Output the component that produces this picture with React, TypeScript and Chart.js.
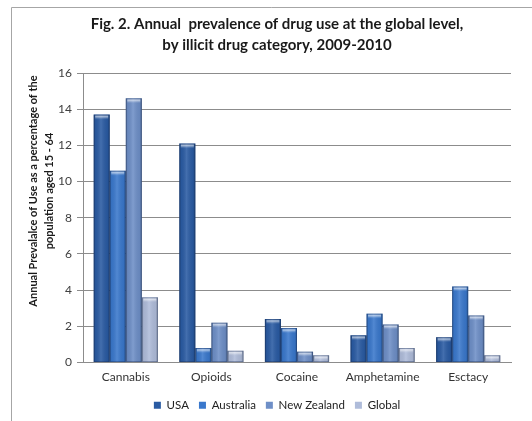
import React, { useEffect, useRef } from "react";
import { Chart, registerables } from "chart.js";

Chart.register(...registerables);

const categories = ["Cannabis", "Opioids", "Cocaine", "Amphetamine", "Esctacy"];
const seriesNames = ["USA", "Australia", "New Zealand", "Global"];
const usa = [13.7, 12.1, 2.4, 1.5, 1.4];
const australia = [10.6, 0.8, 1.9, 2.7, 4.2];
const newZealand = [14.6, 2.2, 0.6, 2.1, 2.6];
const globalLevel = [3.6, 0.65, 0.4, 0.8, 0.4];
const yTicks = [0, 2, 4, 6, 8, 10, 12, 14, 16];

const titleLines = [
  "Fig. 2. Annual  prevalence of drug use at the global level,",
  "by illicit drug category, 2009-2010",
];
const yTitleLines = [
  "Annual Prevalalce of Use as a percentage of the",
  "population aged 15 - 64",
];

const colors = ["#2a5ba3", "#3a78cc", "#6e8fc7", "#afbcda"];
const FONT = "Lato, 'Liberation Sans', sans-serif";

// shades each bar like a rounded cylinder with a lit top cap
const barShading = {
  id: "barShading",
  afterDatasetsDraw(chart: any) {
    const ctx = chart.ctx;
    chart.data.datasets.forEach((_: any, di: number) => {
      const meta = chart.getDatasetMeta(di);
      meta.data.forEach((bar: any) => {
        const { x, y, base, width } = bar.getProps(["x", "y", "base", "width"], true);
        const left = x - width / 2;
        const h = base - y;
        if (h <= 0) return;
        ctx.save();
        const g = ctx.createLinearGradient(left, 0, left + width, 0);
        g.addColorStop(0, "rgba(0,0,0,0.22)");
        g.addColorStop(0.12, "rgba(0,0,0,0.05)");
        g.addColorStop(0.45, "rgba(255,255,255,0.12)");
        g.addColorStop(0.85, "rgba(0,0,0,0.06)");
        g.addColorStop(1, "rgba(0,0,0,0.25)");
        ctx.fillStyle = g;
        ctx.fillRect(left, y, width, h);
        const capH = Math.min(4, h);
        const cg = ctx.createLinearGradient(0, y, 0, y + capH);
        cg.addColorStop(0, "rgba(255,255,255,0.25)");
        cg.addColorStop(0.5, "rgba(255,255,255,0.55)");
        cg.addColorStop(1, "rgba(255,255,255,0.1)");
        ctx.fillStyle = cg;
        ctx.fillRect(left + 1.5, y + 0.5, width - 3, capH);
        ctx.strokeStyle = "rgba(20,40,80,0.35)";
        ctx.lineWidth = 1;
        ctx.strokeRect(left + 0.5, y + 0.5, width - 1, h - 1);
        ctx.restore();
      });
    });
  },
};

// outer frame and the rotated two-line axis caption
const decorations = {
  id: "decorations",
  beforeDraw(chart: any) {
    const ctx = chart.ctx;
    ctx.save();
    ctx.fillStyle = "#ffffff";
    ctx.fillRect(0, 0, chart.width, chart.height);
    ctx.strokeStyle = "#a6a6a6";
    ctx.lineWidth = 1;
    ctx.beginPath();
    ctx.moveTo(11.5, chart.height);
    ctx.lineTo(11.5, 7.5);
    ctx.lineTo(chart.width, 7.5);
    ctx.stroke();
    ctx.restore();
  },
  afterDraw(chart: any) {
    const ctx = chart.ctx;
    ctx.save();
    ctx.translate(33, 191);
    ctx.rotate(-Math.PI / 2);
    ctx.fillStyle = "#1a1a1a";
    ctx.font = `bold 11px ${FONT}`;
    ctx.textAlign = "center";
    ctx.textBaseline = "middle";
    ctx.fillText(yTitleLines[0], 0, 0);
    ctx.fillText(yTitleLines[1], 0, 16);
    ctx.restore();
  },
};

export default function App() {
  const ref = useRef<HTMLCanvasElement>(null);

  useEffect(() => {
    if (!ref.current) return;
    const values = [usa, australia, newZealand, globalLevel];
    const chart = new Chart(ref.current, {
      type: "bar",
      data: {
        labels: categories,
        datasets: seriesNames.map((name, i) => ({
          label: name,
          data: values[i],
          backgroundColor: colors[i],
          borderWidth: 0,
          categoryPercentage: 0.75,
          barPercentage: 1.0,
        })),
      },
      options: {
        animation: false,
        responsive: false,
        layout: { padding: { left: 43, right: 21, top: 0, bottom: 0 } },
        plugins: {
          title: {
            display: true,
            text: titleLines,
            color: "#1a1a1a",
            font: { family: FONT, size: 15, weight: "bold", lineHeight: 1.4 },
            padding: { top: 14, bottom: 17 },
          },
          legend: {
            position: "bottom",
            labels: {
              boxWidth: 7,
              boxHeight: 7,
              padding: 10,
              color: "#222",
              font: { family: FONT, size: 11.5 },
            },
          },
          tooltip: { enabled: false },
        },
        scales: {
          x: {
            grid: { display: false, drawTicks: false },
            border: { display: true, color: "#8c8c8c" },
            ticks: { color: "#333", font: { family: FONT, size: 12 }, padding: 7 },
            afterFit: (s: any) => {
              s.height = 27;
            },
          },
          y: {
            min: 0,
            max: 16,
            afterBuildTicks: (s: any) => {
              s.ticks = yTicks.map((v) => ({ value: v }));
            },
            grid: { color: "#8c8c8c", tickLength: 6 },
            border: { display: true, color: "#8c8c8c" },
            ticks: { color: "#404040", font: { family: FONT, size: 12 }, padding: 5 },
            afterFit: (s: any) => {
              s.width = 40;
            },
          },
        },
      },
      plugins: [decorations, barShading],
    });
    return () => chart.destroy();
  }, []);

  return (
    <div style={{ position: "fixed", left: 0, top: 0, width: 532, height: 421 }}>
      <canvas ref={ref} width={532} height={421} />
    </div>
  );
}
